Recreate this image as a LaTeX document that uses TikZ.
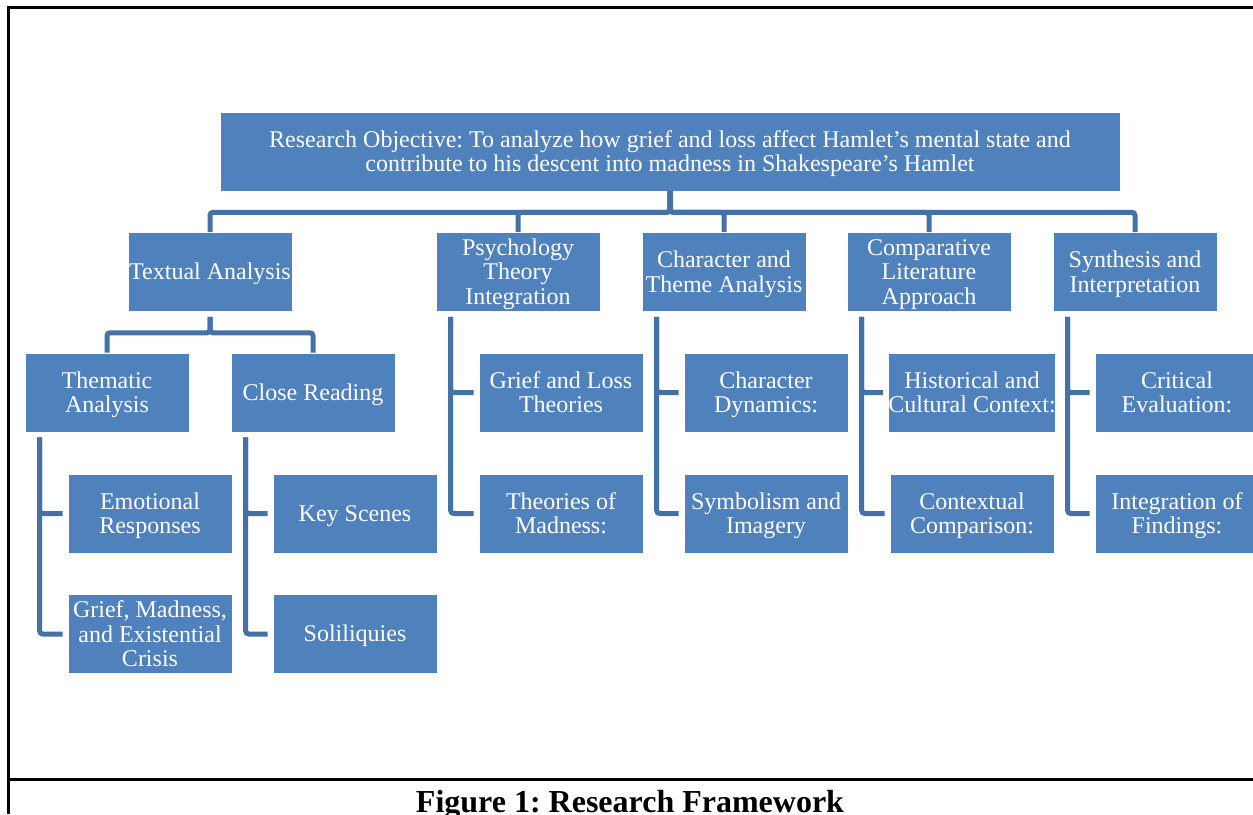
\documentclass[tikz,border=0pt]{standalone}
\usepackage{fontspec}
\setmainfont{Liberation Serif}
\frenchspacing
\definecolor{boxblue}{RGB}{79,129,189}
\definecolor{linkblue}{RGB}{68,114,166}
\newcommand{\tA}{\rule{0pt}{21pt}}
\newcommand{\tZ}{\rule[-5pt]{0pt}{0pt}}
\begin{document}
\begin{tikzpicture}[x=1pt,y=-1pt,
  box/.style={fill=boxblue,draw=white,line width=0.6pt,text=white,inner sep=0pt,
    minimum width=164pt,minimum height=79pt,align=center,
    font=\fontsize{24}{24.5}\selectfont},
  link/.style={draw=linkblue,line width=5pt,rounded corners=3pt},
  frame/.style={draw=black,line width=3pt}]
\useasboundingbox (0,0) rectangle (1253,814);
% frame
\draw[frame] (8,814) -- (8,7) -- (1253,7);
\draw[frame] (8,779) -- (1253,779);
% nodes
\node[box,minimum width=900pt] (top) at (670,151.5) {\tA Research Objective: To analyze how grief and loss affect Hamlet’s mental state and\\contribute to his descent into madness in Shakespeare’s Hamlet\tZ};
\node[box] (ta) at (210,272) {\tA Textual Analysis\tZ};
\node[box] (pt) at (518,272) {\tA Psychology\\Theory\\Integration\tZ};
\node[box] (ct) at (724,272) {\tA Character and\\Theme Analysis\tZ};
\node[box] (cl) at (929,272) {\tA Comparative\\Literature\\Approach\tZ};
\node[box] (si) at (1135,272) {\tA Synthesis and\\Interpretation\tZ};
\node[box] (tha) at (107,392.5) {\tA Thematic\\Analysis\tZ};
\node[box] (cr) at (313,392.5) {\tA Close Reading\tZ};
\node[box] (gl) at (561,392.5) {\tA Grief and Loss\\Theories\tZ};
\node[box] (cd) at (766,392.5) {\tA Character\\Dynamics:\tZ};
\node[box] (hc) at (972,392.5) {\tA Historical and\\Cultural Context:\tZ};
\node[box] (ce) at (1177,392.5) {\tA Critical\\Evaluation:\tZ};
\node[box] (er) at (150,513.5) {\tA Emotional\\Responses\tZ};
\node[box] (ks) at (355,513.5) {\tA Key Scenes\tZ};
\node[box] (tm) at (561,513.5) {\tA Theories of\\Madness:\tZ};
\node[box] (sy) at (766,513.5) {\tA Symbolism and\\Imagery\tZ};
\node[box] (cc) at (972,513.5) {\tA Contextual\\Comparison:\tZ};
\node[box] (ig) at (1177,513.5) {\tA Integration of\\Findings:\tZ};
\node[box] (gm) at (150,634) {\tA Grief, Madness,\\and Existential\\Crisis\tZ};
\node[box] (so) at (355,634) {\tA Soliliquies\tZ};
% caption
\node[font=\fontsize{32}{36}\selectfont\bfseries,anchor=base] (cap) at (630,812) {Figure 1: Research Framework};
% connectors
\foreach \c in {ta,pt,ct,cl,si}
  \draw[link] (top.south) -- ++(0,21) -| (\c.north);
\foreach \c in {tha,cr}
  \draw[link] ([yshift=-5pt]ta.south) -- ++(0,16) -| (\c.north);
\foreach \p/\a/\b in {tha/er/gm,cr/ks/so,pt/gl/tm,ct/cd/sy,cl/hc/cc,si/ce/ig}{
  \draw[link,shorten >=5pt] ([xshift=15pt,yshift=-5pt]\p.south west) |- (\a.west);
  \draw[link,shorten >=5pt] ([xshift=15pt,yshift=-5pt]\p.south west) |- (\b.west);
}
\end{tikzpicture}
\end{document}
